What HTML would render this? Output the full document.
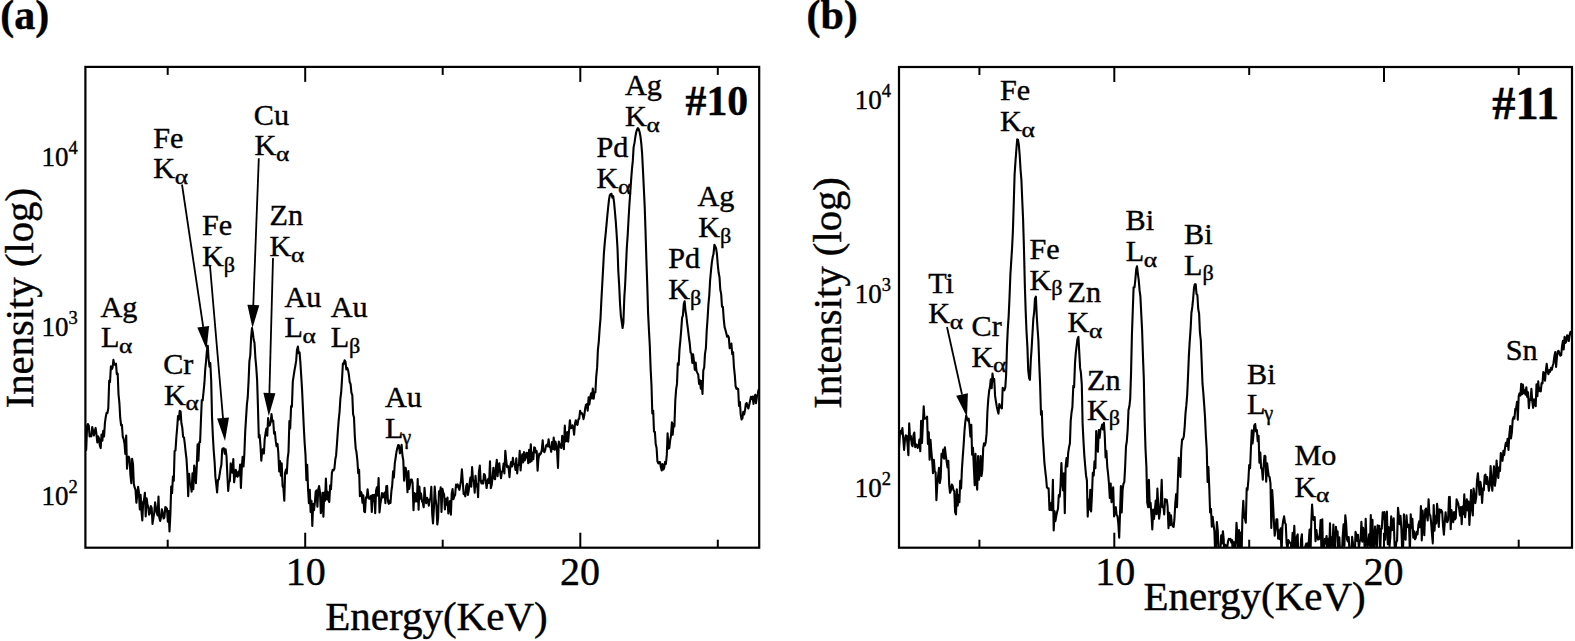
<!DOCTYPE html>
<html lang="en"><head><meta charset="utf-8"><title>XRF spectra</title>
<style>
html,body{margin:0;padding:0;background:#fff;}
svg{display:block;font-family:"Liberation Serif", serif;fill:#000;}
text{stroke:#000;stroke-width:0.4px;}
</style></head><body>
<svg width="1575" height="641" viewBox="0 0 1575 641">
<rect width="1575" height="641" fill="#fff"/>
<defs><clipPath id="cl"><rect x="85.4" y="66.9" width="673.8" height="480.8"/></clipPath><clipPath id="cr"><rect x="899.0" y="67.0" width="673.0" height="480.7"/></clipPath></defs>
<text x="0.3" y="29" font-size="42" font-weight="bold">(a)</text>
<text x="806.5" y="28.6" font-size="42" font-weight="bold">(b)</text>
<rect x="85.4" y="66.9" width="673.8" height="480.8" fill="none" stroke="#000" stroke-width="2.2"/><line x1="167.7" y1="66.9" x2="167.7" y2="74.9" stroke="#000" stroke-width="2"/><line x1="167.7" y1="547.7" x2="167.7" y2="539.7" stroke="#000" stroke-width="2"/><line x1="305.2" y1="66.9" x2="305.2" y2="81.9" stroke="#000" stroke-width="2"/><line x1="305.2" y1="547.7" x2="305.2" y2="532.7" stroke="#000" stroke-width="2"/><line x1="442.7" y1="66.9" x2="442.7" y2="74.9" stroke="#000" stroke-width="2"/><line x1="442.7" y1="547.7" x2="442.7" y2="539.7" stroke="#000" stroke-width="2"/><line x1="580.3" y1="66.9" x2="580.3" y2="81.9" stroke="#000" stroke-width="2"/><line x1="580.3" y1="547.7" x2="580.3" y2="532.7" stroke="#000" stroke-width="2"/><line x1="717.8" y1="66.9" x2="717.8" y2="74.9" stroke="#000" stroke-width="2"/><line x1="717.8" y1="547.7" x2="717.8" y2="539.7" stroke="#000" stroke-width="2"/>
<rect x="899.0" y="67.0" width="673.0" height="480.7" fill="none" stroke="#000" stroke-width="2.2"/><line x1="979.4" y1="67.0" x2="979.4" y2="75.0" stroke="#000" stroke-width="2"/><line x1="979.4" y1="547.7" x2="979.4" y2="539.7" stroke="#000" stroke-width="2"/><line x1="1114.3" y1="67.0" x2="1114.3" y2="82.0" stroke="#000" stroke-width="2"/><line x1="1114.3" y1="547.7" x2="1114.3" y2="532.7" stroke="#000" stroke-width="2"/><line x1="1249.2" y1="67.0" x2="1249.2" y2="75.0" stroke="#000" stroke-width="2"/><line x1="1249.2" y1="547.7" x2="1249.2" y2="539.7" stroke="#000" stroke-width="2"/><line x1="1384.0" y1="67.0" x2="1384.0" y2="82.0" stroke="#000" stroke-width="2"/><line x1="1384.0" y1="547.7" x2="1384.0" y2="532.7" stroke="#000" stroke-width="2"/><line x1="1518.7" y1="67.0" x2="1518.7" y2="75.0" stroke="#000" stroke-width="2"/><line x1="1518.7" y1="547.7" x2="1518.7" y2="539.7" stroke="#000" stroke-width="2"/>
<path clip-path="url(#cl)" d="M85.4 443.2L86.2 450.0L87.1 426.0L87.9 424.0L88.8 425.7L89.6 436.4L90.5 434.7L91.3 436.4L92.2 427.0L93.0 430.3L93.9 435.5L94.7 431.8L95.6 427.9L96.4 433.8L97.3 442.5L98.1 436.4L99.0 438.5L99.8 445.5L100.7 448.1L101.5 434.5L102.4 440.7L103.2 430.9L104.1 436.4L104.9 423.1L105.8 416.7L106.6 412.8L107.5 412.9L108.3 408.0L109.2 380.5L110.0 382.1L110.9 366.2L111.7 369.3L112.6 367.5L113.4 359.8L114.3 364.8L115.1 364.3L116.0 363.7L116.8 374.1L117.7 373.7L118.5 394.1L119.4 403.0L120.2 417.7L121.1 425.3L121.9 424.8L122.8 437.0L123.6 438.8L124.5 443.6L125.3 453.9L126.2 435.6L127.0 468.7L127.9 458.7L128.7 456.7L129.6 459.3L130.4 474.6L131.3 483.1L132.1 458.8L133.0 463.9L133.8 483.7L134.7 487.7L135.5 489.6L136.4 502.8L137.2 495.3L138.1 486.9L138.9 491.9L139.8 509.5L140.6 494.7L141.5 511.5L142.3 520.5L143.2 502.0L144.0 500.1L144.9 492.7L145.7 516.5L146.6 498.2L147.4 503.9L148.3 507.4L149.1 514.7L150.0 513.3L150.8 506.0L151.7 507.9L152.5 523.9L153.4 517.9L154.2 513.1L155.1 502.3L155.9 507.7L156.8 513.0L157.6 515.4L158.5 496.5L159.3 517.7L160.2 521.0L161.0 517.6L161.9 509.2L162.7 512.8L163.6 518.5L164.4 517.6L165.3 507.1L166.1 507.5L167.0 508.9L167.8 521.6L168.7 511.1L169.5 531.5L170.4 514.0L171.2 486.6L172.1 493.2L172.9 476.5L173.8 480.6L174.6 451.0L175.5 450.4L176.3 438.0L177.2 427.5L178.0 416.0L178.9 419.7L179.7 410.9L180.6 411.6L181.4 423.3L182.3 427.6L183.1 436.9L184.0 437.4L184.8 443.8L185.7 452.4L186.5 459.0L187.4 473.6L188.2 496.1L189.1 473.7L189.9 483.6L190.8 484.8L191.6 491.7L192.5 473.3L193.3 489.1L194.2 465.6L195.0 470.8L195.9 483.1L196.7 467.9L197.6 444.3L198.4 460.8L199.3 442.3L200.1 442.1L201.0 418.9L201.8 400.0L202.7 400.2L203.5 392.4L204.4 383.2L205.2 370.0L206.1 360.6L206.9 350.6L207.8 345.7L208.6 359.0L209.5 366.7L210.3 363.0L211.2 380.5L212.0 416.6L212.9 436.8L213.7 450.5L214.6 461.8L215.4 476.9L216.3 484.7L217.1 492.4L218.0 479.9L218.8 479.6L219.7 474.0L220.5 468.7L221.4 464.8L222.2 449.2L223.1 448.3L223.9 448.4L224.8 453.7L225.6 449.2L226.5 456.2L227.3 473.9L228.2 491.0L229.0 481.3L229.9 481.3L230.7 463.3L231.6 468.5L232.4 472.8L233.3 459.0L234.1 482.3L235.0 475.6L235.8 469.8L236.7 475.9L237.5 476.7L238.4 471.5L239.2 475.5L240.1 464.5L240.9 487.9L241.8 467.9L242.6 456.7L243.5 466.5L244.3 455.3L245.2 431.9L246.0 418.9L246.9 404.5L247.7 397.7L248.6 380.6L249.4 361.1L250.3 355.3L251.1 337.5L252.0 328.1L252.8 332.4L253.7 340.0L254.5 342.7L255.4 358.0L256.2 366.6L257.1 379.6L257.9 404.9L258.8 437.5L259.6 435.0L260.5 445.8L261.3 460.6L262.2 450.2L263.0 449.2L263.9 453.5L264.7 439.1L265.6 432.8L266.4 428.6L267.3 435.7L268.1 418.1L269.0 425.8L269.8 425.4L270.7 421.8L271.5 414.1L272.4 421.3L273.2 420.5L274.1 433.8L274.9 432.0L275.8 441.4L276.6 446.3L277.5 443.9L278.3 452.7L279.2 471.4L280.0 461.0L280.9 475.8L281.7 463.4L282.6 486.2L283.4 487.9L284.3 500.6L285.1 472.9L286.0 469.5L286.8 473.4L287.7 458.1L288.5 452.1L289.4 421.0L290.2 428.5L291.1 406.0L291.9 406.8L292.8 381.6L293.6 376.3L294.5 370.3L295.3 366.1L296.2 360.4L297.0 349.7L297.9 346.6L298.7 353.2L299.6 352.5L300.4 362.8L301.3 377.2L302.1 390.4L303.0 409.8L303.8 427.2L304.7 443.8L305.5 454.8L306.4 480.3L307.2 464.7L308.1 490.0L308.9 503.2L309.8 489.9L310.6 512.0L311.5 500.9L312.3 526.0L313.2 503.7L314.0 510.2L314.9 502.5L315.7 491.5L316.6 490.4L317.4 506.8L318.3 489.2L319.1 486.1L320.0 492.4L320.8 513.3L321.7 508.1L322.5 492.8L323.4 516.8L324.2 492.5L325.1 500.6L325.9 478.6L326.8 499.2L327.6 491.7L328.5 500.1L329.3 502.0L330.2 485.3L331.0 489.1L331.9 472.8L332.7 469.8L333.6 470.4L334.4 468.7L335.3 459.5L336.1 455.4L337.0 443.3L337.8 431.8L338.7 420.1L339.5 412.6L340.4 398.5L341.2 392.2L342.1 377.9L342.9 363.6L343.8 363.8L344.6 360.2L345.5 361.8L346.3 369.4L347.2 367.8L348.0 369.9L348.9 374.9L349.7 382.0L350.6 384.2L351.4 392.7L352.3 395.1L353.1 414.3L354.0 417.5L354.8 436.0L355.7 448.2L356.5 452.3L357.4 460.6L358.2 473.2L359.1 469.7L359.9 496.2L360.8 491.7L361.6 493.3L362.5 502.8L363.3 495.2L364.2 511.4L365.0 512.2L365.9 497.4L366.7 498.1L367.6 489.4L368.4 496.2L369.3 498.8L370.1 498.1L371.0 495.8L371.8 511.9L372.7 495.1L373.5 501.3L374.4 494.7L375.2 513.1L376.1 490.5L376.9 487.3L377.8 495.6L378.6 478.0L379.5 512.5L380.3 504.3L381.2 499.2L382.0 493.1L382.9 497.5L383.7 494.9L384.6 492.5L385.4 503.1L386.3 486.2L387.1 485.9L388.0 501.7L388.8 503.8L389.7 500.5L390.5 503.0L391.4 491.0L392.2 485.6L393.1 471.2L393.9 477.4L394.8 463.3L395.6 458.0L396.5 451.7L397.3 448.2L398.2 445.1L399.0 445.2L399.9 453.3L400.7 451.4L401.6 444.8L402.4 455.0L403.3 460.4L404.1 480.8L405.0 467.6L405.8 468.1L406.7 478.4L407.5 492.3L408.4 471.0L409.2 488.9L410.1 483.7L410.9 479.6L411.8 479.6L412.6 483.1L413.5 510.1L414.3 493.1L415.2 501.4L416.0 493.7L416.9 501.4L417.7 479.1L418.6 509.7L419.4 486.6L420.3 498.7L421.1 493.6L422.0 501.3L422.8 502.9L423.7 507.2L424.5 487.7L425.4 499.3L426.2 503.3L427.1 497.8L427.9 499.9L428.8 505.7L429.6 499.7L430.5 498.2L431.3 486.9L432.2 513.8L433.0 523.5L433.9 508.3L434.7 486.6L435.6 498.9L436.4 505.6L437.3 524.5L438.1 518.6L439.0 491.2L439.8 493.7L440.7 487.3L441.5 512.0L442.4 488.7L443.2 492.5L444.1 494.2L444.9 509.4L445.8 498.7L446.6 504.7L447.5 497.6L448.3 513.5L449.2 507.3L450.0 501.0L450.9 514.6L451.7 493.7L452.6 489.0L453.4 499.2L454.3 496.5L455.1 495.1L456.0 484.5L456.8 486.8L457.7 484.4L458.5 487.5L459.4 489.8L460.2 485.3L461.1 480.1L461.9 469.4L462.8 481.7L463.6 493.9L464.5 493.9L465.3 496.3L466.2 486.1L467.0 483.9L467.9 495.0L468.7 490.9L469.6 483.4L470.4 477.5L471.3 486.6L472.1 467.1L473.0 479.9L473.8 481.3L474.7 492.7L475.5 475.7L476.4 486.5L477.2 484.2L478.1 497.1L478.9 472.5L479.8 465.5L480.6 480.1L481.5 483.4L482.3 480.7L483.2 483.6L484.0 474.0L484.9 475.1L485.7 480.5L486.6 488.0L487.4 481.9L488.3 478.7L489.1 483.0L490.0 461.3L490.8 488.1L491.7 485.0L492.5 477.9L493.4 467.7L494.2 478.2L495.1 479.2L495.9 467.6L496.8 459.9L497.6 476.2L498.5 464.9L499.3 463.3L500.2 472.6L501.0 478.3L501.9 471.7L502.7 471.2L503.6 463.5L504.4 473.5L505.3 450.8L506.1 459.2L507.0 467.0L507.8 465.9L508.7 468.9L509.5 477.1L510.4 465.3L511.2 461.9L512.1 466.5L512.9 457.9L513.8 464.3L514.6 464.5L515.5 469.9L516.3 458.2L517.2 473.5L518.0 464.9L518.9 465.0L519.7 450.8L520.6 470.4L521.4 460.9L522.3 454.2L523.1 462.5L524.0 452.1L524.8 460.4L525.7 457.5L526.5 452.7L527.4 453.1L528.2 463.2L529.1 449.8L529.9 462.2L530.8 444.3L531.6 461.2L532.5 452.8L533.3 459.3L534.2 447.4L535.0 447.9L535.9 452.5L536.7 451.1L537.6 470.8L538.4 459.5L539.3 453.6L540.1 454.7L541.0 453.2L541.8 449.8L542.7 440.4L543.5 451.0L544.4 452.2L545.2 450.1L546.1 445.6L546.9 444.5L547.8 446.4L548.6 439.2L549.5 447.0L550.3 446.8L551.2 451.8L552.0 442.1L552.9 448.9L553.7 437.5L554.6 449.8L555.4 441.5L556.3 444.5L557.1 451.8L558.0 467.9L558.8 441.6L559.7 444.6L560.5 446.8L561.4 448.0L562.2 435.9L563.1 440.2L563.9 449.2L564.8 425.6L565.6 441.5L566.5 440.8L567.3 432.1L568.2 441.6L569.0 431.5L569.9 420.2L570.7 428.1L571.6 427.9L572.4 425.2L573.3 428.0L574.1 434.7L575.0 423.6L575.8 420.2L576.7 424.2L577.5 424.9L578.4 419.4L579.2 418.7L580.1 410.7L580.9 413.5L581.8 413.0L582.6 414.8L583.5 419.1L584.3 415.2L585.2 408.3L586.0 404.8L586.9 404.1L587.7 410.7L588.6 397.4L589.4 404.4L590.3 397.0L591.1 393.2L592.0 398.5L592.8 388.5L593.7 398.7L594.5 392.0L595.4 392.4L596.2 376.8L597.1 367.9L597.9 349.9L598.8 341.5L599.6 329.3L600.5 318.7L601.3 301.6L602.2 285.3L603.0 270.6L603.9 253.5L604.7 243.3L605.6 234.3L606.4 225.8L607.3 216.0L608.1 208.0L609.0 199.6L609.8 195.4L610.7 194.0L611.5 193.9L612.4 197.7L613.2 196.1L614.1 202.6L614.9 211.5L615.8 221.9L616.6 233.5L617.5 248.3L618.3 271.0L619.2 285.8L620.0 303.2L620.9 316.1L621.7 321.7L622.6 328.0L623.4 322.5L624.3 297.7L625.1 285.5L626.0 265.8L626.8 248.0L627.7 234.9L628.5 220.0L629.4 204.8L630.2 193.6L631.1 180.3L631.9 169.8L632.8 160.9L633.6 147.4L634.5 142.9L635.3 137.3L636.2 132.2L637.0 129.5L637.9 128.2L638.7 129.1L639.6 132.0L640.4 136.2L641.3 143.5L642.1 153.3L643.0 170.9L643.8 187.8L644.7 206.4L645.5 230.5L646.4 260.0L647.2 283.0L648.1 313.1L648.9 329.3L649.8 345.6L650.6 368.1L651.5 385.5L652.3 413.4L653.2 410.8L654.0 431.6L654.9 432.0L655.7 444.1L656.6 448.0L657.4 461.1L658.3 463.5L659.1 462.0L660.0 462.0L660.8 467.0L661.7 470.5L662.5 464.0L663.4 469.5L664.2 467.7L665.1 461.9L665.9 464.0L666.8 454.9L667.6 433.2L668.5 448.6L669.3 448.1L670.2 440.0L671.0 435.7L671.9 422.4L672.7 434.6L673.6 423.8L674.4 426.4L675.3 400.6L676.1 389.7L677.0 383.9L677.8 363.3L678.7 364.9L679.5 349.4L680.4 340.1L681.2 330.1L682.1 317.6L682.9 315.7L683.8 303.9L684.6 301.2L685.5 311.0L686.3 315.6L687.2 323.5L688.0 329.7L688.9 337.5L689.7 343.0L690.6 352.6L691.4 353.4L692.3 363.0L693.1 354.4L694.0 361.4L694.8 369.8L695.7 362.6L696.5 371.1L697.4 372.9L698.2 374.4L699.1 384.0L699.9 380.2L700.8 388.6L701.6 381.1L702.5 394.0L703.3 370.4L704.2 367.5L705.0 353.9L705.9 348.2L706.7 331.0L707.6 318.3L708.4 304.7L709.3 295.0L710.1 280.4L711.0 270.6L711.8 262.9L712.7 257.1L713.5 254.1L714.4 244.9L715.2 246.2L716.1 248.3L716.9 253.7L717.8 264.9L718.6 272.5L719.5 277.1L720.3 289.8L721.2 294.1L722.0 306.8L722.9 306.7L723.7 318.6L724.6 327.1L725.4 329.8L726.3 333.2L727.1 336.7L728.0 335.7L728.8 337.3L729.7 348.3L730.5 346.8L731.4 343.6L732.2 354.1L733.1 352.2L733.9 366.6L734.8 375.1L735.6 386.2L736.5 388.8L737.3 388.4L738.2 389.1L739.0 406.0L739.9 402.0L740.7 414.4L741.6 419.5L742.4 418.4L743.3 411.7L744.1 414.5L745.0 410.6L745.8 403.9L746.7 403.0L747.5 406.5L748.4 408.5L749.2 404.9L750.1 400.8L750.9 396.9L751.8 398.8L752.6 396.6L753.5 403.9L754.3 397.0L755.2 394.8L756.0 403.1L756.9 396.8L757.7 394.0L758.6 389.8L759.2 389.9" fill="none" stroke="#000" stroke-width="2.1" stroke-linejoin="round"/>
<path clip-path="url(#cr)" d="M899.0 448.8L899.9 433.8L900.7 430.7L901.6 433.7L902.4 428.1L903.3 439.1L904.1 450.0L905.0 439.4L905.8 435.3L906.7 435.9L907.5 443.8L908.4 455.1L909.2 423.2L910.1 439.5L910.9 436.0L911.8 444.7L912.6 446.2L913.5 435.0L914.3 432.6L915.2 447.3L916.0 444.3L916.9 445.2L917.7 447.9L918.6 445.6L919.4 439.6L920.3 451.3L921.1 420.8L922.0 443.0L922.8 426.1L923.7 406.3L924.5 418.8L925.4 418.0L926.2 418.8L927.1 416.7L927.9 443.9L928.8 432.4L929.6 459.6L930.5 439.7L931.3 450.9L932.2 460.8L933.0 473.3L933.9 459.9L934.7 471.3L935.6 472.4L936.4 500.2L937.3 484.3L938.1 476.2L939.0 467.8L939.8 483.0L940.7 477.7L941.5 453.8L942.4 457.4L943.2 449.5L944.1 458.7L944.9 447.3L945.8 455.4L946.6 461.3L947.5 467.4L948.3 460.9L949.2 484.9L950.0 492.8L950.9 490.4L951.7 484.5L952.6 485.6L953.4 489.9L954.3 491.3L955.1 512.1L956.0 514.5L956.8 489.4L957.7 505.6L958.5 495.3L959.4 502.1L960.2 480.8L961.1 488.5L961.9 469.6L962.8 456.1L963.6 445.5L964.5 430.8L965.3 421.9L966.2 415.5L967.0 418.1L967.9 420.6L968.7 418.7L969.6 426.5L970.4 436.7L971.3 424.9L972.1 454.6L973.0 447.7L973.8 466.4L974.7 485.2L975.5 453.9L976.4 480.5L977.2 489.6L978.1 456.0L978.9 479.8L979.8 473.0L980.6 456.0L981.5 476.0L982.3 470.2L983.2 448.5L984.0 443.3L984.9 445.5L985.7 442.5L986.6 433.4L987.4 411.9L988.3 398.9L989.1 391.3L990.0 386.8L990.8 379.3L991.7 388.1L992.5 373.5L993.4 381.5L994.2 379.0L995.1 395.9L995.9 401.3L996.8 406.7L997.6 410.4L998.5 413.7L999.3 404.0L1000.2 406.1L1001.0 407.6L1001.9 408.4L1002.7 387.7L1003.6 389.4L1004.4 390.3L1005.3 387.4L1006.1 375.2L1007.0 346.3L1007.8 328.9L1008.7 315.6L1009.5 297.8L1010.4 274.5L1011.2 261.9L1012.1 247.7L1012.9 230.9L1013.8 201.9L1014.6 174.5L1015.5 161.2L1016.3 150.5L1017.2 139.4L1018.0 139.7L1018.9 145.3L1019.7 155.5L1020.6 170.4L1021.4 179.9L1022.3 201.5L1023.1 219.6L1024.0 250.0L1024.8 284.1L1025.7 311.8L1026.5 331.3L1027.4 346.9L1028.2 370.1L1029.1 378.0L1029.9 379.9L1030.8 360.1L1031.6 348.9L1032.5 333.3L1033.3 319.2L1034.2 311.8L1035.0 298.4L1035.9 296.7L1036.7 315.0L1037.6 329.3L1038.4 340.5L1039.3 365.5L1040.1 384.5L1041.0 414.6L1041.8 411.0L1042.7 435.8L1043.5 447.3L1044.4 462.7L1045.2 470.2L1046.1 478.0L1046.9 487.3L1047.8 488.4L1048.6 488.4L1049.5 509.9L1050.3 509.9L1051.2 502.9L1052.0 510.3L1052.9 479.7L1053.7 530.5L1054.6 511.4L1055.4 521.1L1056.3 515.8L1057.1 512.0L1058.0 508.8L1058.8 495.0L1059.7 496.7L1060.5 486.3L1061.4 463.0L1062.2 481.4L1063.1 490.4L1063.9 473.2L1064.8 513.3L1065.6 467.3L1066.5 458.0L1067.3 466.4L1068.2 452.8L1069.0 447.3L1069.9 443.6L1070.7 420.9L1071.6 412.0L1072.4 407.1L1073.3 385.7L1074.1 387.2L1075.0 363.2L1075.8 352.7L1076.7 345.4L1077.5 338.9L1078.4 336.9L1079.2 351.1L1080.1 367.9L1080.9 372.6L1081.8 384.7L1082.6 423.6L1083.5 441.4L1084.3 455.1L1085.2 466.0L1086.0 475.2L1086.9 480.2L1087.7 516.6L1088.6 499.8L1089.4 509.5L1090.3 489.8L1091.1 511.5L1092.0 494.0L1092.8 472.8L1093.7 475.6L1094.5 461.4L1095.4 468.2L1096.2 431.1L1097.1 447.8L1097.9 451.6L1098.8 430.0L1099.6 437.8L1100.5 429.5L1101.3 428.2L1102.2 424.6L1103.0 429.5L1103.9 422.8L1104.7 434.4L1105.6 457.5L1106.4 450.9L1107.3 467.1L1108.1 474.0L1109.0 483.9L1109.8 498.0L1110.7 483.6L1111.5 502.1L1112.4 495.7L1113.2 487.2L1114.1 516.5L1114.9 508.9L1115.8 507.2L1116.6 515.2L1117.5 516.1L1118.3 523.4L1119.2 537.7L1120.0 514.2L1120.9 486.0L1121.7 512.5L1122.6 490.2L1123.4 484.0L1124.3 482.1L1125.1 467.8L1126.0 446.2L1126.8 441.5L1127.7 429.2L1128.5 410.1L1129.4 406.3L1130.2 398.7L1131.1 371.1L1131.9 335.5L1132.8 309.7L1133.6 287.3L1134.5 287.3L1135.3 280.0L1136.2 269.5L1137.0 266.2L1137.9 274.0L1138.7 279.8L1139.6 290.4L1140.4 296.5L1141.3 314.6L1142.1 330.5L1143.0 357.4L1143.8 378.3L1144.7 422.0L1145.5 448.6L1146.4 466.6L1147.2 502.3L1148.1 507.1L1148.9 479.8L1149.8 507.2L1150.6 502.8L1151.5 515.8L1152.3 529.5L1153.2 509.6L1154.0 519.0L1154.9 510.5L1155.7 500.6L1156.6 514.2L1157.4 488.5L1158.3 506.6L1159.1 518.7L1160.0 511.8L1160.8 500.9L1161.7 479.9L1162.5 507.1L1163.4 506.2L1164.2 514.4L1165.1 499.1L1165.9 500.0L1166.8 499.9L1167.6 506.3L1168.5 528.1L1169.3 512.8L1170.2 525.2L1171.0 515.3L1171.9 524.4L1172.7 525.9L1173.6 527.0L1174.4 519.7L1175.3 503.3L1176.1 494.0L1177.0 507.2L1177.8 482.8L1178.7 457.9L1179.5 469.1L1180.4 477.0L1181.2 450.7L1182.1 439.4L1182.9 439.4L1183.8 436.5L1184.6 428.2L1185.5 413.3L1186.3 405.7L1187.2 394.7L1188.0 377.0L1188.9 355.4L1189.7 341.6L1190.6 329.2L1191.4 313.1L1192.3 306.9L1193.1 299.2L1194.0 288.0L1194.8 284.3L1195.7 284.4L1196.5 293.9L1197.4 295.2L1198.2 308.7L1199.1 313.6L1199.9 332.1L1200.8 340.5L1201.6 360.3L1202.5 383.7L1203.3 392.6L1204.2 404.9L1205.0 416.8L1205.9 436.4L1206.7 448.7L1207.6 481.9L1208.4 467.0L1209.3 488.4L1210.1 512.4L1211.0 508.9L1211.8 526.6L1212.7 516.9L1213.5 524.0L1214.4 531.2L1215.2 554.2L1216.1 544.2L1216.9 522.1L1217.8 530.8L1218.6 552.8L1219.5 565.2L1220.3 551.0L1221.2 535.4L1222.0 543.5L1222.9 531.2L1223.7 539.0L1224.6 565.3L1225.4 544.8L1226.3 570.5L1227.1 548.5L1228.0 541.6L1228.8 538.9L1229.7 539.7L1230.5 538.9L1231.4 542.8L1232.2 540.2L1233.1 566.9L1233.9 542.1L1234.8 546.7L1235.6 546.2L1236.5 522.8L1237.3 534.1L1238.2 548.5L1239.0 530.0L1239.9 559.4L1240.7 532.5L1241.6 555.3L1242.4 516.7L1243.3 500.9L1244.1 517.0L1245.0 518.9L1245.8 522.7L1246.7 488.3L1247.5 490.0L1248.4 479.9L1249.2 465.0L1250.1 468.3L1250.9 448.7L1251.8 430.3L1252.6 443.4L1253.5 434.5L1254.3 425.4L1255.2 424.0L1256.0 431.4L1256.9 430.2L1257.7 441.2L1258.6 435.7L1259.4 462.6L1260.3 452.5L1261.1 467.9L1262.0 469.4L1262.8 479.6L1263.7 464.8L1264.5 455.7L1265.4 456.4L1266.2 481.6L1267.1 463.2L1267.9 469.8L1268.8 476.3L1269.6 477.0L1270.5 483.7L1271.3 527.9L1272.2 490.1L1273.0 502.7L1273.9 521.6L1274.7 535.7L1275.6 528.9L1276.4 519.4L1277.3 519.4L1278.1 538.7L1279.0 530.4L1279.8 539.2L1280.7 528.2L1281.5 555.6L1282.4 526.6L1283.2 520.6L1284.1 516.4L1284.9 522.5L1285.8 524.4L1286.6 543.2L1287.5 549.3L1288.3 540.1L1289.2 541.6L1290.0 542.9L1290.9 543.9L1291.7 550.6L1292.6 532.9L1293.4 547.4L1294.3 525.8L1295.1 546.5L1296.0 558.6L1296.8 536.9L1297.7 534.4L1298.5 566.1L1299.4 552.6L1300.2 560.4L1301.1 538.9L1301.9 534.3L1302.8 560.6L1303.6 563.0L1304.5 559.9L1305.3 546.5L1306.2 543.6L1307.0 543.4L1307.9 550.2L1308.7 542.7L1309.6 529.6L1310.4 556.8L1311.3 522.0L1312.1 504.5L1313.0 519.0L1313.8 520.0L1314.7 517.0L1315.5 541.2L1316.4 530.0L1317.2 536.6L1318.1 539.6L1318.9 539.3L1319.8 534.0L1320.6 520.0L1321.5 553.7L1322.3 519.3L1323.2 563.2L1324.0 548.3L1324.9 538.9L1325.7 543.4L1326.6 536.0L1327.4 563.3L1328.3 538.7L1329.1 554.6L1330.0 523.4L1330.8 552.7L1331.7 537.3L1332.5 545.8L1333.4 524.5L1334.2 554.9L1335.1 550.0L1335.9 526.7L1336.8 533.8L1337.6 531.5L1338.5 558.8L1339.3 537.2L1340.2 553.4L1341.0 557.7L1341.9 553.7L1342.7 536.9L1343.6 524.4L1344.4 546.0L1345.3 515.2L1346.1 522.9L1347.0 539.3L1347.8 541.5L1348.7 537.0L1349.5 550.6L1350.4 560.2L1351.2 556.4L1352.1 536.8L1352.9 543.0L1353.8 566.1L1354.6 563.2L1355.5 531.9L1356.3 534.3L1357.2 540.9L1358.0 534.9L1358.9 548.3L1359.7 541.2L1360.6 539.9L1361.4 521.8L1362.3 541.6L1363.1 527.8L1364.0 535.1L1364.8 551.4L1365.7 518.7L1366.5 539.0L1367.4 547.6L1368.2 542.4L1369.1 534.3L1369.9 546.0L1370.8 515.0L1371.6 554.6L1372.5 519.9L1373.3 569.6L1374.2 543.5L1375.0 526.5L1375.9 536.2L1376.7 551.7L1377.6 525.3L1378.4 532.7L1379.3 525.9L1380.1 554.8L1381.0 528.9L1381.8 528.8L1382.7 512.3L1383.5 518.6L1384.4 512.0L1385.2 539.7L1386.1 520.2L1386.9 511.6L1387.8 544.1L1388.6 527.1L1389.5 546.3L1390.3 537.6L1391.2 516.3L1392.0 530.1L1392.9 522.6L1393.7 518.3L1394.6 545.2L1395.4 549.8L1396.3 542.4L1397.1 540.6L1398.0 507.7L1398.8 515.1L1399.7 524.1L1400.5 515.9L1401.4 529.1L1402.2 551.1L1403.1 549.3L1403.9 514.4L1404.8 536.8L1405.6 539.7L1406.5 515.2L1407.3 527.1L1408.2 524.6L1409.0 525.1L1409.9 551.8L1410.7 514.3L1411.6 527.7L1412.4 518.7L1413.3 537.7L1414.1 531.3L1415.0 539.3L1415.8 537.7L1416.7 531.7L1417.5 534.5L1418.4 525.0L1419.2 521.3L1420.1 527.3L1420.9 506.1L1421.8 540.4L1422.6 510.5L1423.5 523.0L1424.3 535.1L1425.2 510.0L1426.0 508.5L1426.9 515.8L1427.7 520.5L1428.6 499.2L1429.4 513.9L1430.3 515.5L1431.1 522.1L1432.0 534.2L1432.8 543.4L1433.7 505.0L1434.5 530.6L1435.4 516.2L1436.2 523.4L1437.1 503.8L1437.9 513.5L1438.8 527.0L1439.6 509.2L1440.5 512.5L1441.3 510.1L1442.2 512.0L1443.0 525.3L1443.9 534.7L1444.7 523.3L1445.6 512.4L1446.4 520.6L1447.3 522.1L1448.1 519.8L1449.0 497.1L1449.8 496.9L1450.7 529.2L1451.5 510.1L1452.4 515.7L1453.2 522.2L1454.1 512.1L1454.9 519.5L1455.8 517.9L1456.6 499.3L1457.5 501.6L1458.3 503.8L1459.2 509.1L1460.0 515.7L1460.9 507.1L1461.7 524.3L1462.6 506.5L1463.4 514.1L1464.3 494.4L1465.1 517.3L1466.0 507.7L1466.8 499.2L1467.7 510.5L1468.5 501.5L1469.4 525.0L1470.2 511.0L1471.1 490.1L1471.9 506.7L1472.8 515.4L1473.6 488.6L1474.5 495.3L1475.3 503.2L1476.2 497.4L1477.0 481.1L1477.9 473.2L1478.7 483.7L1479.6 494.8L1480.4 481.9L1481.3 487.6L1482.1 502.9L1483.0 488.6L1483.8 490.4L1484.7 475.4L1485.5 474.6L1486.4 484.0L1487.2 477.0L1488.1 484.1L1488.9 490.8L1489.8 484.4L1490.6 466.1L1491.5 481.6L1492.3 490.7L1493.2 476.3L1494.0 466.2L1494.9 485.8L1495.7 479.5L1496.6 460.6L1497.4 472.3L1498.3 477.9L1499.1 467.2L1500.0 470.9L1500.8 453.0L1501.7 460.1L1502.5 460.8L1503.4 450.7L1504.2 455.2L1505.1 447.0L1505.9 442.8L1506.8 446.0L1507.6 438.7L1508.5 450.0L1509.3 435.1L1510.2 426.0L1511.0 438.4L1511.9 432.0L1512.7 419.7L1513.6 417.1L1514.4 418.6L1515.3 408.8L1516.1 408.7L1517.0 401.8L1517.8 419.7L1518.7 396.2L1519.5 393.2L1520.4 395.6L1521.2 383.8L1522.1 394.1L1522.9 384.5L1523.8 393.1L1524.6 390.3L1525.5 394.6L1526.3 387.2L1527.2 396.9L1528.0 392.2L1528.9 408.1L1529.7 399.6L1530.6 400.0L1531.4 388.9L1532.3 401.1L1533.1 407.8L1534.0 399.2L1534.8 402.8L1535.7 406.3L1536.5 384.4L1537.4 396.2L1538.2 381.4L1539.1 391.1L1539.9 388.1L1540.8 391.4L1541.6 383.0L1542.5 383.4L1543.3 372.1L1544.2 373.5L1545.0 380.6L1545.9 370.3L1546.7 363.9L1547.6 371.7L1548.4 374.2L1549.3 370.1L1550.1 371.8L1551.0 367.9L1551.8 369.7L1552.7 365.7L1553.5 363.2L1554.4 356.1L1555.2 352.1L1556.1 366.9L1556.9 357.5L1557.8 351.4L1558.6 350.8L1559.5 353.6L1560.3 355.7L1561.2 355.1L1562.0 346.5L1562.9 340.8L1563.7 349.5L1564.6 336.9L1565.4 343.0L1566.3 341.4L1567.1 335.3L1568.0 336.1L1568.8 341.0L1569.7 334.6L1570.5 331.8L1571.4 333.5L1572.0 335.6" fill="none" stroke="#000" stroke-width="2.1" stroke-linejoin="round"/>
<text x="41.6" y="166.0" font-size="27" stroke-width="0.5">10<tspan font-size="18.5" dy="-12">4</tspan></text>
<text x="41.6" y="335.5" font-size="27" stroke-width="0.5">10<tspan font-size="18.5" dy="-12">3</tspan></text>
<text x="41.6" y="504.5" font-size="27" stroke-width="0.5">10<tspan font-size="18.5" dy="-12">2</tspan></text>
<text x="854.7" y="109.1" font-size="27" stroke-width="0.5">10<tspan font-size="18.5" dy="-12">4</tspan></text>
<text x="854.7" y="302.9" font-size="27" stroke-width="0.5">10<tspan font-size="18.5" dy="-12">3</tspan></text>
<text x="854.7" y="496.7" font-size="27" stroke-width="0.5">10<tspan font-size="18.5" dy="-12">2</tspan></text>
<text x="305.8" y="584.7" font-size="40" text-anchor="middle">10</text>
<text x="579.9" y="584.5" font-size="40" text-anchor="middle">20</text>
<text x="1115.3" y="585.2" font-size="40" text-anchor="middle">10</text>
<text x="1383.5" y="585.2" font-size="40" text-anchor="middle">20</text>
<text x="436.5" y="629.7" font-size="41" text-anchor="middle">Energy(KeV)</text>
<text x="1254.6" y="610.0" font-size="41" text-anchor="middle">Energy(KeV)</text>
<text transform="translate(32.8 298.2) rotate(-90)" font-size="40.7" text-anchor="middle">Inensity (log)</text>
<text transform="translate(841 292.9) rotate(-90)" font-size="40.7" text-anchor="middle">Intensity (log)</text>
<text x="685.6" y="115.25" font-size="41.7" font-weight="bold">#10</text>
<text x="1492.3" y="119.4" font-size="46.3" font-weight="bold">#11</text>
<text x="100.5" y="317.0" font-size="30.2" stroke-width="0.5">Ag</text>
<text x="101.0" y="347.0" font-size="30.2" stroke-width="0.5">L</text><text transform="translate(119.1 352.8) scale(1.18 1)" font-size="21.5" stroke-width="0.5">α</text>
<text x="163.2" y="374.0" font-size="30.2" stroke-width="0.5">Cr</text>
<text x="164.0" y="404.5" font-size="30.2" stroke-width="0.5">K</text><text transform="translate(185.4 410.3) scale(1.18 1)" font-size="21.5" stroke-width="0.5">α</text>
<text x="153.2" y="148.2" font-size="30.2" stroke-width="0.5">Fe</text>
<text x="153.2" y="178.2" font-size="30.2" stroke-width="0.5">K</text><text transform="translate(174.7 184.1) scale(1.18 1)" font-size="21.5" stroke-width="0.5">α</text>
<text x="202.0" y="235.0" font-size="30.2" stroke-width="0.5">Fe</text>
<text x="202.0" y="265.8" font-size="30.2" stroke-width="0.5">K</text><text transform="translate(223.7 271.6) scale(1.03 1)" font-size="21.5" stroke-width="0.5">β</text>
<text x="253.8" y="124.5" font-size="30.2" stroke-width="0.5">Cu</text>
<text x="254.5" y="155.0" font-size="30.2" stroke-width="0.5">K</text><text transform="translate(275.9 160.8) scale(1.18 1)" font-size="21.5" stroke-width="0.5">α</text>
<text x="269.5" y="225.0" font-size="30.2" stroke-width="0.5">Zn</text>
<text x="269.5" y="256.0" font-size="30.2" stroke-width="0.5">K</text><text transform="translate(290.9 261.8) scale(1.18 1)" font-size="21.5" stroke-width="0.5">α</text>
<text x="284.5" y="307.0" font-size="30.2" stroke-width="0.5">Au</text>
<text x="284.5" y="337.0" font-size="30.2" stroke-width="0.5">L</text><text transform="translate(302.6 342.8) scale(1.18 1)" font-size="21.5" stroke-width="0.5">α</text>
<text x="330.8" y="316.5" font-size="30.2" stroke-width="0.5">Au</text>
<text x="330.8" y="347.0" font-size="30.2" stroke-width="0.5">L</text><text transform="translate(349.1 352.8) scale(1.03 1)" font-size="21.5" stroke-width="0.5">β</text>
<text x="385.0" y="407.0" font-size="30.2" stroke-width="0.5">Au</text>
<text x="385.0" y="438.2" font-size="30.2" stroke-width="0.5">L</text><text transform="translate(402.1 444.1) scale(0.97 1)" font-size="21.5" stroke-width="0.5">γ</text>
<text x="596.5" y="157.0" font-size="30.2" stroke-width="0.5">Pd</text>
<text x="596.5" y="188.2" font-size="30.2" stroke-width="0.5">K</text><text transform="translate(617.9 194.1) scale(1.18 1)" font-size="21.5" stroke-width="0.5">α</text>
<text x="625.0" y="95.0" font-size="30.2" stroke-width="0.5">Ag</text>
<text x="625.0" y="125.8" font-size="30.2" stroke-width="0.5">K</text><text transform="translate(646.4 131.6) scale(1.18 1)" font-size="21.5" stroke-width="0.5">α</text>
<text x="668.2" y="268.2" font-size="30.2" stroke-width="0.5">Pd</text>
<text x="668.2" y="299.0" font-size="30.2" stroke-width="0.5">K</text><text transform="translate(690.0 304.8) scale(1.03 1)" font-size="21.5" stroke-width="0.5">β</text>
<text x="697.5" y="205.8" font-size="30.2" stroke-width="0.5">Ag</text>
<text x="698.2" y="237.0" font-size="30.2" stroke-width="0.5">K</text><text transform="translate(720.0 242.8) scale(1.03 1)" font-size="21.5" stroke-width="0.5">β</text>
<text x="928.2" y="292.5" font-size="30.2" stroke-width="0.5">Ti</text>
<text x="928.2" y="323.2" font-size="30.2" stroke-width="0.5">K</text><text transform="translate(949.7 329.1) scale(1.18 1)" font-size="21.5" stroke-width="0.5">α</text>
<text x="971.5" y="335.8" font-size="30.2" stroke-width="0.5">Cr</text>
<text x="971.5" y="366.5" font-size="30.2" stroke-width="0.5">K</text><text transform="translate(992.9 372.3) scale(1.18 1)" font-size="21.5" stroke-width="0.5">α</text>
<text x="1000.0" y="100.0" font-size="30.2" stroke-width="0.5">Fe</text>
<text x="1000.0" y="130.8" font-size="30.2" stroke-width="0.5">K</text><text transform="translate(1021.4 136.6) scale(1.18 1)" font-size="21.5" stroke-width="0.5">α</text>
<text x="1029.5" y="259.0" font-size="30.2" stroke-width="0.5">Fe</text>
<text x="1029.5" y="289.5" font-size="30.2" stroke-width="0.5">K</text><text transform="translate(1051.2 295.3) scale(1.03 1)" font-size="21.5" stroke-width="0.5">β</text>
<text x="1067.5" y="302.0" font-size="30.2" stroke-width="0.5">Zn</text>
<text x="1067.5" y="332.0" font-size="30.2" stroke-width="0.5">K</text><text transform="translate(1088.9 337.8) scale(1.18 1)" font-size="21.5" stroke-width="0.5">α</text>
<text x="1087.0" y="389.5" font-size="30.2" stroke-width="0.5">Zn</text>
<text x="1087.0" y="419.5" font-size="30.2" stroke-width="0.5">K</text><text transform="translate(1108.7 425.3) scale(1.03 1)" font-size="21.5" stroke-width="0.5">β</text>
<text x="1125.5" y="230.0" font-size="30.2" stroke-width="0.5">Bi</text>
<text x="1125.8" y="260.8" font-size="30.2" stroke-width="0.5">L</text><text transform="translate(1143.8 266.6) scale(1.18 1)" font-size="21.5" stroke-width="0.5">α</text>
<text x="1184.0" y="244.0" font-size="30.2" stroke-width="0.5">Bi</text>
<text x="1184.0" y="274.5" font-size="30.2" stroke-width="0.5">L</text><text transform="translate(1202.4 280.3) scale(1.03 1)" font-size="21.5" stroke-width="0.5">β</text>
<text x="1247.0" y="384.0" font-size="30.2" stroke-width="0.5">Bi</text>
<text x="1247.0" y="414.0" font-size="30.2" stroke-width="0.5">L</text><text transform="translate(1264.1 419.8) scale(0.97 1)" font-size="21.5" stroke-width="0.5">γ</text>
<text x="1294.5" y="465.0" font-size="30.2" stroke-width="0.5">Mo</text>
<text x="1294.5" y="496.5" font-size="30.2" stroke-width="0.5">K</text><text transform="translate(1315.9 502.3) scale(1.18 1)" font-size="21.5" stroke-width="0.5">α</text>
<text x="1505.8" y="359.5" font-size="30.2" stroke-width="0.5">Sn</text>
<line x1="182.0" y1="184.5" x2="203.2" y2="326.8" stroke="#000" stroke-width="1.8"/><polygon points="206.6,349.5 197.3,327.6 209.1,325.9" fill="#000"/>
<line x1="210.0" y1="266.0" x2="223.0" y2="418.1" stroke="#000" stroke-width="1.8"/><polygon points="225.0,441.0 217.1,418.6 229.0,417.6" fill="#000"/>
<line x1="258.8" y1="158.2" x2="253.3" y2="305.0" stroke="#000" stroke-width="1.8"/><polygon points="252.5,328.0 247.4,304.8 259.3,305.2" fill="#000"/>
<line x1="273.0" y1="258.0" x2="269.4" y2="393.0" stroke="#000" stroke-width="1.8"/><polygon points="268.8,416.0 263.4,392.8 275.4,393.2" fill="#000"/>
<line x1="947.0" y1="327.0" x2="962.0" y2="394.5" stroke="#000" stroke-width="1.8"/><polygon points="967.0,417.0 956.2,395.8 967.9,393.2" fill="#000"/>
</svg>
</body></html>
